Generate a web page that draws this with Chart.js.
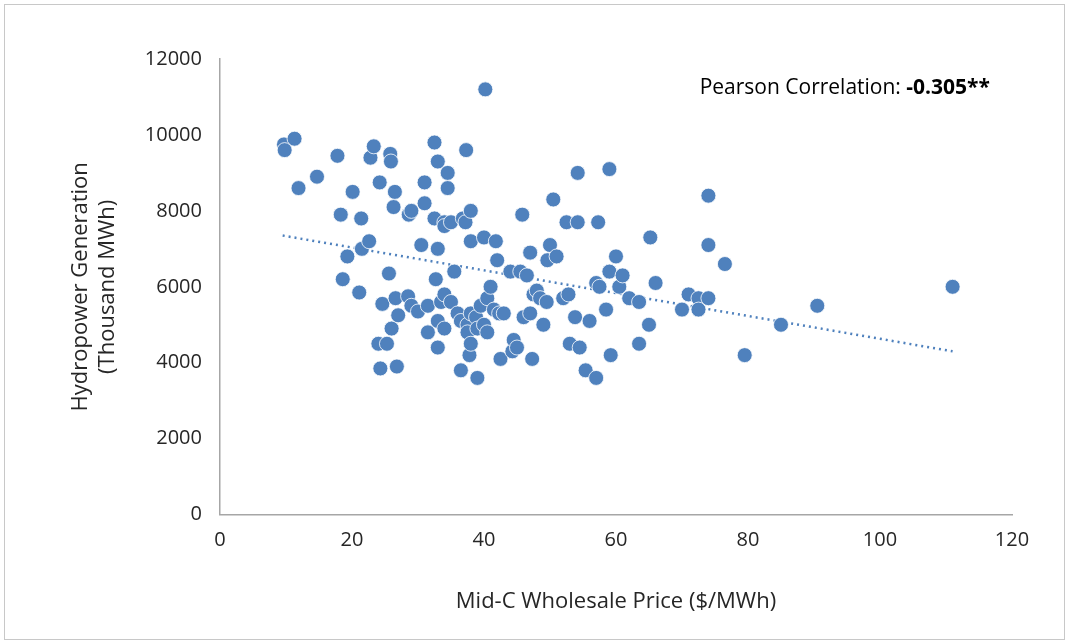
<!DOCTYPE html>
<html lang="en">
<head>
<meta charset="UTF-8"/>
<title>Hydropower vs Price</title>
<script src="https://cdn.jsdelivr.net/npm/chart.js"></script>
<style>
  html, body { margin: 0; padding: 0; background: #fff; }
  .frame { position: absolute; left: 4px; top: 4px; width: 1059px; height: 634px; border: 1px solid #c8c8c8; }
  canvas { display: block; }
</style>
</head>
<body>
<div class="frame"></div>
<canvas id="c" width="1069" height="644"></canvas>
<script>
const priceX = [9.7,9.8,11.3,11.9,14.7,17.8,18.3,18.6,19.3,20.1,21.1,21.4,21.5,22.6,22.8,23.3,24,24.2,24.3,24.6,25.3,25.6,25.8,25.9,26,26.3,26.5,26.6,26.8,27,28.5,28.6,29,29,30,30.5,31,31,31.5,31.5,32.5,32.5,32.7,33,33,33,33,33.5,34,34,34,34,34.5,34.5,35,35,35.5,36,36.5,36.5,36.8,37.2,37.3,37.5,37.5,37.8,38,38,38,38,38.8,39,39,39.5,40,40,40.2,40.5,40.5,41,41.5,41.8,42,42.3,42.5,43,44,44.3,44.5,45,45.5,45.8,46,46.5,47,47,47.5,47.3,48,48.5,49,49.5,49.6,50,50.5,51,52,52.5,52.8,53,53.8,54.2,54.2,54.5,55.4,56,57,57,57.3,57.5,58.5,59,59,59.2,60,60.5,61,62,63.5,63.5,65,65.2,66,70,71,72.5,72.5,74,74,74,76.5,79.5,85,90.5,111];
const hydroY = [9750,9600,9900,8600,8900,9450,7900,6200,6800,8500,5850,7800,7000,7200,9400,9700,4500,8750,3850,5550,4500,6350,9500,9300,4900,8100,8500,5700,3900,5250,5750,7900,8000,5500,5350,7100,8750,8200,5500,4800,9800,7800,6200,9300,7000,5100,4400,5600,4900,7700,7600,5800,9000,8600,7700,5600,6400,5300,5100,3800,7800,7700,9600,5000,4800,4200,7200,5300,4500,8000,5200,4900,3600,5500,7300,5000,11200,4800,5700,6000,5400,7200,6700,5300,4100,5300,6400,4300,4600,4400,6400,7900,5200,6300,6900,5300,5800,4100,5900,5700,5000,5600,6700,7100,8300,6800,5700,7700,5800,4500,5200,7700,9000,4400,3800,5100,6100,3600,7700,6000,5400,6400,9100,4200,6800,6000,6300,5700,4500,5600,5000,7300,6100,5400,5800,5700,5400,7100,8400,5700,6600,4200,5000,5500,6000];
const trendX = [9.5, 111];
const trendY = [7350, 4300];
const xTicks = [0,20,40,60,80,100,120];
const yTicks = [0,2000,4000,6000,8000,10000,12000];

const blue = "#4f81bd";
const font = "'Open Sans', 'Liberation Sans', sans-serif";

const pearson = {
  id: "pearson",
  afterDraw(chart) {
    const ctx = chart.ctx, a = chart.chartArea;
    ctx.save();
    ctx.textBaseline = "middle";
    ctx.fillStyle = "#000";
    ctx.font = "bold 21px " + font;
    const b = "-0.305**";
    const bw = ctx.measureText(b).width;
    const right = a.right - 22;
    ctx.fillText(b, right - bw, 88);
    ctx.font = "21px " + font;
    const t = "Pearson Correlation: ";
    ctx.fillText(t, right - bw - ctx.measureText(t).width, 88);
    ctx.restore();
  }
};

new Chart(document.getElementById("c"), {
  type: "scatter",
  data: {
    datasets: [
      {
        data: priceX.map((x, i) => ({ x, y: hydroY[i] })),
        backgroundColor: blue, borderColor: "#fff", borderWidth: 0.8,
        pointRadius: 7.5
      },
      {
        type: "line",
        data: trendX.map((x, i) => ({ x, y: trendY[i] })),
        borderColor: blue, borderWidth: 2.5, borderDash: [2, 4],
        pointRadius: 0, fill: false
      }
    ]
  },
  plugins: [pearson],
  options: {
    responsive: false, animation: false,
    layout: { padding: { left: 64, right: 57, top: 59, bottom: 25 } },
    plugins: { legend: { display: false }, tooltip: { enabled: false } },
    scales: {
      x: {
        type: "linear", min: 0, max: 120,
        afterBuildTicks: s => { s.ticks = xTicks.map(v => ({ value: v })); },
        grid: { display: false },
        border: { color: "#a6a6a6", width: 1.5 },
        ticks: { color: "#262626", font: { family: font, size: 20 }, padding: 6, callback: v => String(v) },
        title: { display: true, text: "Mid-C Wholesale Price ($/MWh)", color: "#262626",
                 font: { family: font, size: 22 }, padding: { top: 30 } }
      },
      y: {
        min: 0, max: 12000,
        afterBuildTicks: s => { s.ticks = yTicks.map(v => ({ value: v })); },
        grid: { display: false },
        border: { color: "#a6a6a6", width: 1.5 },
        ticks: { color: "#262626", font: { family: font, size: 20 }, padding: 10, callback: v => String(v) },
        title: { display: true, text: ["Hydropower Generation", "(Thousand MWh)"], color: "#262626",
                 font: { family: font, size: 22 }, padding: { bottom: 14 } }
      }
    }
  }
});
</script>
</body>
</html>
